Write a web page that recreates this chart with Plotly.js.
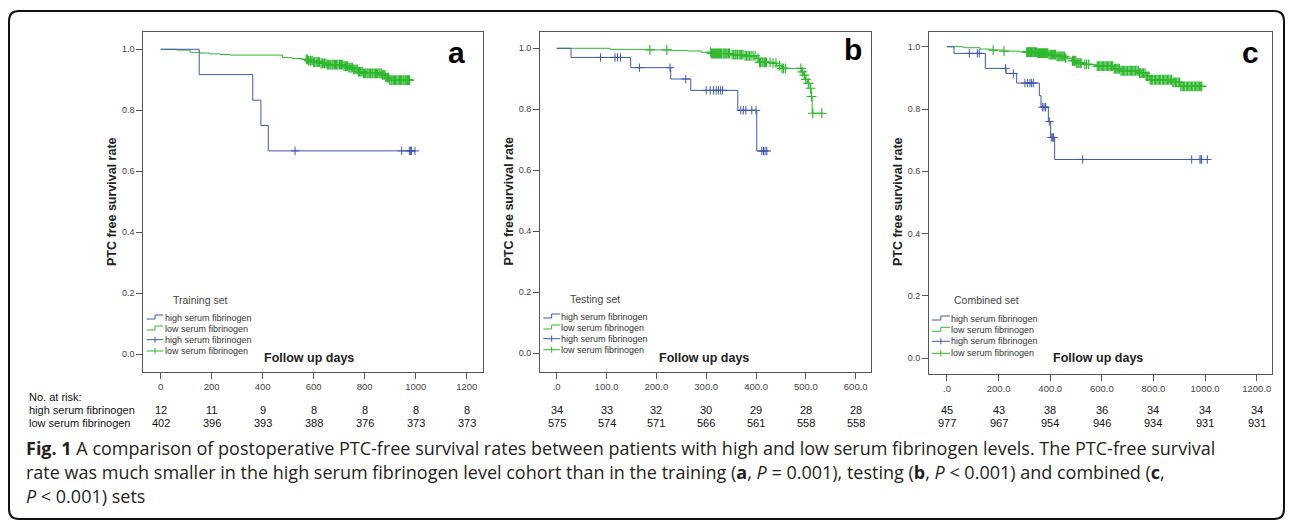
<!DOCTYPE html>
<html><head><meta charset="utf-8">
<script src="https://cdn.plot.ly/plotly-3.0.1.min.js"></script>
<style>html,body{margin:0;padding:0;background:#fff;}#chart{width:1292px;height:524px;}</style>
</head><body><div id="chart"></div>
<script>
const W = 1292, H = 524;

// ---------- data ----------
const seriesNames = ['high serum fibrinogen', 'low serum fibrinogen'];
const setNames = ['Training set', 'Testing set', 'Combined set'];
const panelLetters = ['a', 'b', 'c'];

// Panel a (training)
const timeA_hi = [0, 151, 361, 393, 422, 997];
const survA_hi = [1, 0.917, 0.833, 0.750, 0.667, 0.667];
const censA_hi = [527, 945, 975, 980, 984, 997];
const timeA_lo = [0, 63, 115, 154, 193, 232, 272, 478, 514, 553, 579, 598, 624, 651, 716, 736, 755, 775, 795, 867, 880, 897, 978];
const survA_lo = [1, 0.9975, 0.990, 0.9876, 0.985, 0.983, 0.981, 0.9726, 0.970, 0.967, 0.963, 0.958, 0.954, 0.950, 0.945, 0.940, 0.934, 0.927, 0.921, 0.916, 0.907, 0.899, 0.899];
const censA_lo = [571, 575, 580, 586, 589, 594, 600, 603, 609, 614, 618, 623, 629, 634, 637, 642, 648, 653, 657, 661, 667, 672, 676, 681, 686, 690, 695, 701, 705, 709, 714, 719, 724, 728, 733, 738, 742, 747, 752, 757, 761, 766, 771, 776, 780, 785, 790, 795, 799, 804, 809, 813, 818, 823, 828, 832, 837, 842, 846, 851, 856, 860, 865, 870, 875, 879, 884, 889, 893, 898, 903, 907, 912, 917, 921, 926, 931, 936, 940, 945, 950, 954, 959, 963, 968, 972, 976];

// Panel b (testing)
const timeB_hi = [0, 28.7, 148.5, 228.8, 269, 363.4, 401.5, 421.6];
const survB_hi = [1, 0.970, 0.9365, 0.8993, 0.862, 0.7966, 0.6633, 0.6633];
const censB_hi = [88, 117, 122, 128, 166, 227.5, 259, 300, 308, 314.5, 320, 324.5, 329, 333, 369.5, 374.5, 379.5, 391.5, 400, 411.5, 415, 418, 421.6];
const timeB_lo = [0, 107, 180, 230, 262, 290, 310, 350, 376, 401.5, 405, 431.6, 441.6, 451.7, 491.8, 495, 498.5, 503, 508.6, 510.6, 512.6, 534];
const survB_lo = [1, 0.9965, 0.9948, 0.993, 0.9913, 0.987, 0.983, 0.979, 0.975, 0.967, 0.954, 0.951, 0.943, 0.934, 0.923, 0.912, 0.898, 0.885, 0.869, 0.842, 0.787, 0.787];
const censB_lo = [187, 221, 309, 311, 313, 315, 317, 319, 321, 323, 325, 327, 329, 331, 334, 336, 338, 340, 342, 345, 347, 352, 355, 358, 360, 363, 366, 369, 371, 374, 378, 381, 384, 387, 390, 394, 398, 404, 407, 409, 412, 414, 417, 419, 421, 428, 434, 440, 447, 452, 455, 459, 490, 493, 497, 500, 505, 509.5, 511.5, 514, 532];

// Panel c (combined)
const timeC_hi = [0, 27.1, 148.5, 228.6, 270, 357.7, 364.2, 392.6, 401.7, 417.1, 1008.6];
const survC_hi = [1, 0.9786, 0.9304, 0.9143, 0.8833, 0.843, 0.806, 0.760, 0.7088, 0.6381, 0.6381];
const censC_hi = [86.5, 117.5, 125, 227, 257, 302, 312.5, 321.5, 328, 334.5, 369.5, 376, 382, 396.5, 404, 409.5, 413, 525.6, 948, 980, 984, 986.7, 1008.6];
const timeC_lo = [0, 63.3, 127.9, 166.6, 218.3, 282.8, 347.4, 392.6, 424.9, 457.2, 483, 502.4, 530.8, 579.9, 644.4, 670.3, 741.3, 767.1, 786.5, 870.5, 902.8, 987];
const survC_lo = [1, 0.9968, 0.9925, 0.9893, 0.986, 0.9829, 0.9797, 0.9743, 0.969, 0.9636, 0.955, 0.9476, 0.9433, 0.9379, 0.9293, 0.9229, 0.9154, 0.9047, 0.894, 0.8854, 0.8726, 0.8726];
const censC_lo = [179, 221, 309, 312, 315, 318, 321, 324, 327, 330, 333, 337, 340, 343, 346, 350, 354, 358, 362, 366, 370, 374, 378, 382, 386, 390, 395, 400, 404, 408, 412, 417, 421, 426, 430, 434, 438, 442, 446, 450, 455, 460, 486, 490, 494, 499, 503, 507, 511, 516, 520, 534, 541, 549, 582, 587, 592, 597, 602, 607, 612, 617, 622, 627, 632, 637, 642, 648, 653, 658, 663, 668, 674, 679, 684, 689, 694, 699, 705, 710, 715, 720, 725, 730, 736, 741, 746, 751, 756, 761, 767, 772, 777, 782, 787, 792, 797, 803, 808, 813, 818, 823, 828, 834, 839, 844, 849, 854, 859, 865, 870, 875, 880, 885, 890, 896, 901, 906, 911, 916, 921, 927, 932, 937, 942, 947, 952, 958, 963, 968, 973, 978, 983, 987];

// Tick values / labels
const yTickVals = [0, 0.2, 0.4, 0.6, 0.8, 1.0];
const yTickText = ['0.0', '0.2', '0.4', '0.6', '0.8', '1.0'];
const xTickValsA = [0, 200, 400, 600, 800, 1000, 1200];
const xTickTextA = ['0', '200', '400', '600', '800', '1000', '1200'];
const xTickValsB = [0, 100, 200, 300, 400, 500, 600];
const xTickTextB = ['.0', '100.0', '200.0', '300.0', '400.0', '500.0', '600.0'];
const xTickValsC = [0, 200, 400, 600, 800, 1000, 1200];
const xTickTextC = ['.0', '200.0', '400.0', '600.0', '800.0', '1000.0', '1200.0'];

// Number at risk
const riskA_hi = [12, 11, 9, 8, 8, 8, 8];
const riskA_lo = [402, 396, 393, 388, 376, 373, 373];
const riskB_hi = [34, 33, 32, 30, 29, 28, 28];
const riskB_lo = [575, 574, 571, 566, 561, 558, 558];
const riskC_hi = [45, 43, 38, 36, 34, 34, 34];
const riskC_lo = [977, 967, 954, 946, 934, 931, 931];

// ---------- styling / layout ----------
const BLUE = '#3e58ac', GREEN = '#2eb82e';
const px = x => x / W;
const py = y => 1 - y / H;
const P = (x, y) => px(x).toFixed(5) + ',' + py(y).toFixed(5);

const panels = [
  {box: [143.3, 482.7, 32.3, 372], xr: [-68.2, 1262.7], yr: [-0.058, 1.0557],
   tv: xTickValsA, tt: xTickTextA, hi: [timeA_hi, survA_hi, censA_hi], lo: [timeA_lo, survA_lo, censA_lo],
   rh: riskA_hi, rl: riskA_lo, ytx: 111.5, letter: [457, 52], fx: 309,
   leg: {title: [171, 300], icon: [146.7, 163.3], tx: 164, ys: [317.7, 328.7, 339.7, 351]}},
  {box: [540, 871, 31.7, 371.7], xr: [-33.5, 630.7], yr: [-0.0603, 1.0544],
   tv: xTickValsB, tt: xTickTextB, hi: [timeB_hi, survB_hi, censB_hi], lo: [timeB_lo, survB_lo, censB_lo],
   rh: riskB_hi, rl: riskB_lo, ytx: 508, letter: [853, 50], fx: 704,
   leg: {title: [568, 299], icon: [543.3, 560], tx: 560, ys: [316.7, 327.7, 338.7, 349.7]}},
  {box: [929, 1271.7, 32, 374], xr: [-69.7, 1258], yr: [-0.0504, 1.0472],
   tv: xTickValsC, tt: xTickTextC, hi: [timeC_hi, survC_hi, censC_hi], lo: [timeC_lo, survC_lo, censC_lo],
   rh: riskC_hi, rl: riskC_lo, ytx: 897.5, letter: [1250, 52], fx: 1098,
   leg: {title: [951.7, 300.3], icon: [931.7, 950], tx: 950, ys: [318.7, 330, 341.3, 353.3]}}
];

function survAt(t, s, v) {
  let r = s[0];
  for (let i = 0; i < t.length; i++) { if (t[i] <= v) r = s[i]; }
  return r;
}

const traces = [], annotations = [], shapes = [];
const layout = {
  width: W, height: H, margin: {l: 0, r: 0, t: 0, b: 0},
  paper_bgcolor: '#ffffff', plot_bgcolor: '#ffffff', showlegend: false,
  font: {family: 'Arial, Liberation Sans, sans-serif'}
};

panels.forEach((p, i) => {
  const n = i === 0 ? '' : String(i + 1);
  const xa = 'x' + n, ya = 'y' + n;
  layout['xaxis' + n] = {
    domain: [px(p.box[0]), px(p.box[1])], range: p.xr, anchor: ya,
    showline: true, mirror: true, linecolor: '#555', linewidth: 1,
    ticks: 'outside', ticklen: 6, tickcolor: '#555', tickwidth: 1,
    tickvals: p.tv, ticktext: p.tt, tickfont: {family: 'Arial', size: 9.5, color: '#444'},
    showgrid: false, zeroline: false, fixedrange: true
  };
  layout['yaxis' + n] = {
    domain: [py(p.box[3]), py(p.box[2])], range: p.yr, anchor: xa,
    showline: true, mirror: true, linecolor: '#555', linewidth: 1,
    ticks: 'outside', ticklen: 6, tickcolor: '#555', tickwidth: 1,
    tickvals: yTickVals, ticktext: yTickText, tickfont: {family: 'Arial', size: 9, color: '#444'},
    showgrid: false, zeroline: false, fixedrange: true
  };
  [[p.lo, GREEN, seriesNames[1], 7, 1.2], [p.hi, BLUE, seriesNames[0], 6, 1]].forEach(([d, col, nm, ms, mw]) => {
    traces.push({x: d[0], y: d[1], mode: 'lines', line: {shape: 'hv', color: col, width: 1},
      xaxis: xa, yaxis: ya, name: nm, hoverinfo: 'skip'});
    traces.push({x: d[2], y: d[2].map(v => survAt(d[0], d[1], v)), mode: 'markers',
      marker: {symbol: 'cross-thin-open', size: ms, color: col, line: {color: col, width: mw}},
      xaxis: xa, yaxis: ya, name: nm, hoverinfo: 'skip'});
  });
  // y title
  annotations.push({text: '<b>PTC free survival rate</b>', xref: 'paper', yref: 'paper',
    x: px(p.ytx), y: py(201.5), xanchor: 'center', yanchor: 'middle', textangle: -90, showarrow: false,
    font: {family: 'Arial', size: 12.5, color: '#222'}});
  // x title (inside box)
  annotations.push({text: '<b>Follow up days</b>', xref: 'paper', yref: 'paper',
    x: px(p.fx), y: py(358), xanchor: 'center', yanchor: 'middle', showarrow: false,
    font: {family: 'Arial', size: 12.5, color: '#222'}});
  // panel letter
  annotations.push({text: '<b>' + panelLetters[i] + '</b>', xref: 'paper', yref: 'paper',
    x: px(p.letter[0]), y: py(p.letter[1]), xanchor: 'center', yanchor: 'middle', showarrow: false,
    font: {family: 'Arial', size: 30, color: '#000'}});
  // legend
  const L = p.leg;
  annotations.push({text: setNames[i], xref: 'paper', yref: 'paper', x: px(L.title[0]), y: py(L.title[1]),
    xanchor: 'left', yanchor: 'middle', showarrow: false, font: {family: 'Arial', size: 10.5, color: '#444'}});
  const legCols = [BLUE, GREEN, BLUE, GREEN];
  const legNames = [seriesNames[0], seriesNames[1], seriesNames[0], seriesNames[1]];
  L.ys.forEach((yc, k) => {
    annotations.push({text: legNames[k], xref: 'paper', yref: 'paper', x: px(L.tx), y: py(yc),
      xanchor: 'left', yanchor: 'middle', showarrow: false, borderpad: 0,
      font: {family: 'Arial', size: 9, color: '#333'}});
    const x0 = L.icon[0], x1 = L.icon[1], xm = (x0 + x1) / 2;
    let path;
    if (k < 2) {
      path = 'M' + P(x0, yc + 1.3) + ' L' + P(xm, yc + 1.3) + ' L' + P(xm, yc - 2.7) + ' L' + P(x1, yc - 2.7);
    } else {
      path = 'M' + P(x0, yc) + ' L' + P(x1, yc) + ' M' + P(xm, yc - 3) + ' L' + P(xm, yc + 3);
    }
    shapes.push({type: 'path', xref: 'paper', yref: 'paper', path: path, line: {color: legCols[k], width: 1}});
  });
  // number at risk
  p.tv.forEach((tv, k) => {
    annotations.push({text: String(p.rh[k]), xref: xa, yref: 'paper', x: tv, y: py(410),
      xanchor: 'center', yanchor: 'middle', showarrow: false, borderpad: 0,
      font: {family: 'Arial', size: 11, color: '#111'}});
    annotations.push({text: String(p.rl[k]), xref: xa, yref: 'paper', x: tv, y: py(423),
      xanchor: 'center', yanchor: 'middle', showarrow: false, borderpad: 0,
      font: {family: 'Arial', size: 11, color: '#111'}});
  });
});

// risk table row labels
[['No. at risk:', 397], [seriesNames[0], 410], [seriesNames[1], 423]].forEach(([t, y]) => {
  annotations.push({text: t, xref: 'paper', yref: 'paper', x: px(28), y: py(y), xanchor: 'left', yanchor: 'middle',
    showarrow: false, borderpad: 0, font: {family: 'Arial', size: 11, color: '#111'}});
});

// caption
const captionLines = [
  '<b>Fig. 1</b> A comparison of postoperative PTC-free survival rates between patients with high and low serum fibrinogen levels. The PTC-free survival',
  'rate was much smaller in the high serum fibrinogen level cohort than in the training (<b>a</b>, <i>P</i> = 0.001), testing (<b>b</b>, <i>P</i> &lt; 0.001) and combined (<b>c</b>,',
  '<i>P</i> &lt; 0.001) sets'
];
const captionY = [447.5, 471.5, 495.5];
captionLines.forEach((t, k) => {
  annotations.push({text: t, xref: 'paper', yref: 'paper', x: px(25), y: py(captionY[k]), xanchor: 'left', yanchor: 'middle',
    showarrow: false, borderpad: 0, font: {family: 'Open Sans', size: 18, color: '#231f20'}});
});

// outer rounded frame
(function () {
  const x0 = 9, y0 = 11, x1 = 1284, y1 = 519, r = 10;
  const path = 'M' + P(x0 + r, y0) + ' L' + P(x1 - r, y0) + ' Q' + P(x1, y0) + ' ' + P(x1, y0 + r) +
    ' L' + P(x1, y1 - r) + ' Q' + P(x1, y1) + ' ' + P(x1 - r, y1) +
    ' L' + P(x0 + r, y1) + ' Q' + P(x0, y1) + ' ' + P(x0, y1 - r) +
    ' L' + P(x0, y0 + r) + ' Q' + P(x0, y0) + ' ' + P(x0 + r, y0) + ' Z';
  shapes.push({type: 'path', xref: 'paper', yref: 'paper', path: path, line: {color: '#111', width: 2}});
})();

layout.annotations = annotations;
layout.shapes = shapes;
Plotly.newPlot('chart', traces, layout, {staticPlot: true, displayModeBar: false});
</script></body></html>
